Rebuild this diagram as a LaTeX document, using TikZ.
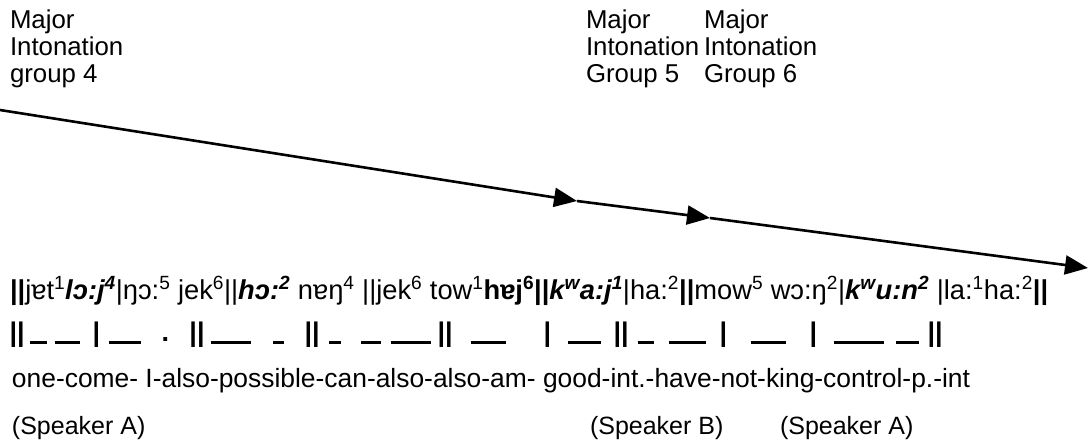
\documentclass[tikz,border=0pt]{standalone}
\usepackage{fontspec}
\setmainfont{Liberation Sans}
\usetikzlibrary{arrows.meta}

\newcommand{\bi}[1]{\textbf{\textit{#1}}}
\newcommand{\tn}[1]{\textsuperscript{#1}}
\newcommand{\ds}[1]{\rule[-3pt]{#1pt}{2.6pt}}
\newcommand{\putat}[2]{\rlap{\hspace{#1pt}#2}}

\begin{document}
\begin{tikzpicture}[
    x=1pt, y=-1pt,
    every node/.style={inner sep=0pt, outer sep=0pt},
    grplabel/.style={anchor=north west, align=left,
                     font=\fontsize{25.8}{27}\selectfont},
    txtrow/.style={anchor=base west, font=\fontsize{25}{30}\selectfont},
    arrow/.style={-{Triangle[length=23pt, width=19pt]}, line width=2.6pt}
]
    \useasboundingbox (0,0) rectangle (1089,442);

    % intonation group labels
    \node[grplabel] (g4) at (10,10) {Major\\Intonation\\group 4};
    \node[grplabel] (g5) at (586,10) {Major\\Intonation\\Group 5};
    \node[grplabel] (g6) at (704,10) {Major\\Intonation\\Group 6};

    % the arrow
    \coordinate (s) at (0,110);
    \coordinate (m1) at (577,201);
    \coordinate (m2) at (710,218);
    \coordinate (e) at (1088,268);
    \draw[arrow] (s) -- (m1);
    \draw[arrow] (m1) -- (m2);
    \draw[arrow] (m2) -- (e);

    % transcription
    \node[txtrow, font=\fontsize{27.3}{30}\selectfont] (ipa) at (10,299) {\textbf{||}jɐt\tn{1}\bi{lɔ:j\tn{4}}|ŋɔ:\tn{5} jek\tn{6}||\bi{hɔ:\tn{2}} nɐŋ\tn{4} ||jek\tn{6} tow\tn{1}\textbf{hɐj\tn{6}||}\bi{k\tn{w}a:j\tn{1}}|ha:\tn{2}\textbf{||}mow\tn{5} wɔ:ŋ\tn{2}|\bi{k\tn{w}u:n\tn{2}} |la:\tn{1}ha:\tn{2}\textbf{||}};

    % tones
    \node[txtrow, font=\fontsize{27}{30}\bfseries] (tone) at (10,341) {%
        \putat{-1}{||}\putat{20}{\ds{16}}\putat{44}{\ds{26}}%
        \putat{82}{|}\putat{98}{\ds{32}}\putat{151}{.}%
        \putat{179}{||}\putat{200}{\ds{40}}\putat{262}{\ds{11}}%
        \putat{294}{||}\putat{318}{\ds{12}}\putat{350}{\ds{20}}\putat{380}{\ds{40}}%
        \putat{427}{||}\putat{460}{\ds{35}}\putat{533}{|}\putat{557}{\ds{33}}%
        \putat{603}{||}\putat{627}{\ds{16}}\putat{658}{\ds{37}}%
        \putat{709}{|}\putat{740}{\ds{35}}%
        \putat{799}{|}\putat{823}{\ds{50}}\putat{885}{\ds{23}}%
        \putat{917}{||}};

    % gloss
    \node[txtrow, font=\fontsize{26.4}{30}\selectfont] (gloss) at (12,387) {one-come- I-also-possible-can-also-also-am- good-int.-have-not-king-control-p.-int};

    % speakers
    \node[txtrow] (spkA) at (12,434) {(Speaker A)};
    \node[txtrow] (spkB) at (590,434) {(Speaker B)};
    \node[txtrow] (spkC) at (780,434) {(Speaker A)};
\end{tikzpicture}
\end{document}
